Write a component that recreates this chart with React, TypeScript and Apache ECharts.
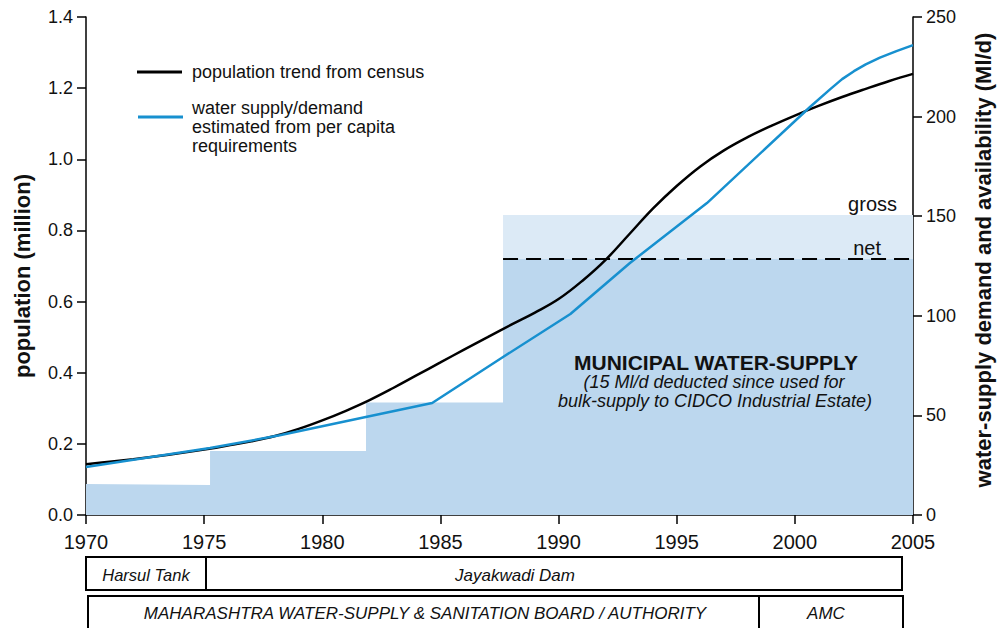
import React, { useEffect, useRef } from "react";
import * as echarts from "echarts";

const popYears = [1970, 1971, 1972, 1973, 1974, 1975, 1976, 1977, 1978, 1979, 1980, 1981, 1982, 1983, 1984, 1985, 1986, 1987, 1988, 1989, 1990, 1991, 1992, 1993, 1994, 1995, 1996, 1997, 1998, 1999, 2000, 2001, 2002, 2003, 2004, 2005];
const population = [0.143, 0.150, 0.157, 0.165, 0.174, 0.184, 0.195, 0.207, 0.222, 0.242, 0.266, 0.293, 0.323, 0.357, 0.393, 0.429, 0.465, 0.500, 0.535, 0.569, 0.607, 0.658, 0.718, 0.790, 0.862, 0.925, 0.980, 1.025, 1.062, 1.094, 1.123, 1.150, 1.175, 1.198, 1.220, 1.240];

const demandYears = [1970, 1975.25, 1978.2, 1982.44, 1984.65, 1987.65, 1990.5, 1993.02, 1996.28, 2000.64, 2001.5, 2002.0, 2002.5, 2003.0, 2003.6, 2004.3, 2005];
const demand = [24.1, 33.6, 40, 50.7, 56.2, 79.3, 100.9, 126.5, 156.6, 204.8, 213.8, 218.8, 222.8, 226.2, 229.6, 232.9, 235.9];

const netYears = [1970, 1975.25, 1975.25, 1981.85, 1981.85, 1987.65, 1987.65, 2005];
const netSupply = [15.5, 15, 32.1, 32.1, 56.5, 56.5, 128.5, 128.5];

const grossYears = [1987.65, 2005];
const grossSupply = [150.6, 150.6];

const xTicks = { min: 1970, max: 2005, interval: 5 };
const popTicks = { min: 0, max: 1.4, interval: 0.2 };
const supplyTicks = { min: 0, max: 250, interval: 50 };

const legendLabels = ["population trend from census", "water supply/demand", "estimated from per capita", "requirements"];
const timelineRow1 = ["Harsul Tank", "Jayakwadi Dam"];
const timelineRow2 = ["MAHARASHTRA WATER-SUPPLY & SANITATION BOARD / AUTHORITY", "AMC"];

const FONT = "'Liberation Sans', Arial, Helvetica, sans-serif";
const pair = (xs: number[], ys: number[]) => xs.map((x, i) => [x, ys[i]]);

export default function App() {
  const ref = useRef<HTMLDivElement>(null);
  useEffect(() => {
    if (!ref.current) return;
    const chart = echarts.init(ref.current, null, { renderer: "svg" });
    const axisLine = { show: true, lineStyle: { color: "#000", width: 1.5 } };
    const axisTick = { show: true, length: 9, lineStyle: { color: "#000", width: 1.5 } };
    const txt = (x: number, y: number, text: string, size: number, extra: any = {}) => ({
      type: "text",
      x,
      y,
      z: 100,
      style: { text, fontSize: size, fontFamily: FONT, fill: "#111", textAlign: "left", textVerticalAlign: "middle", ...extra },
    });
    const net = netSupply[netSupply.length - 1];
    chart.setOption({
      animation: false,
      textStyle: { fontFamily: FONT },
      grid: { left: 86, right: 84, top: 17, bottom: 113, containLabel: false },
      xAxis: {
        type: "value",
        ...xTicks,
        axisLine,
        axisTick,
        splitLine: { show: false },
        axisLabel: { color: "#111", fontSize: 20, margin: 17, fontFamily: FONT, formatter: (v: number) => String(v) },
      },
      yAxis: [
        {
          type: "value",
          ...popTicks,
          position: "left",
          axisLine,
          axisTick,
          splitLine: { show: false },
          axisLabel: { color: "#111", fontSize: 18, margin: 13, fontFamily: FONT, formatter: (v: number) => v.toFixed(1) },
        },
        {
          type: "value",
          ...supplyTicks,
          position: "right",
          axisLine,
          axisTick,
          splitLine: { show: false },
          axisLabel: { color: "#111", fontSize: 18, margin: 13, fontFamily: FONT },
        },
      ],
      series: [
        {
          type: "line",
          yAxisIndex: 1,
          data: pair(grossYears, grossSupply),
          symbol: "none",
          lineStyle: { width: 0 },
          areaStyle: { color: "#dceaf6", opacity: 1 },
          z: 1,
        },
        {
          type: "line",
          yAxisIndex: 1,
          data: pair(netYears, netSupply),
          symbol: "none",
          lineStyle: { width: 0 },
          areaStyle: { color: "#bcd7ee", opacity: 1 },
          z: 2,
        },
        {
          type: "line",
          yAxisIndex: 1,
          data: pair(grossYears, [net, net]),
          symbol: "none",
          lineStyle: { color: "#000", width: 2, type: [15, 8] },
          z: 3,
        },
        {
          type: "line",
          yAxisIndex: 0,
          data: pair(popYears, population),
          symbol: "none",
          smooth: 0.4,
          lineStyle: { color: "#000", width: 2.5 },
          z: 4,
        },
        {
          type: "line",
          yAxisIndex: 1,
          data: pair(demandYears, demand),
          symbol: "none",
          smooth: false,
          lineStyle: { color: "#1790cf", width: 2.5 },
          z: 5,
        },
      ],
      graphic: [
        { type: "line", z: 100, shape: { x1: 137, y1: 72, x2: 182, y2: 72 }, style: { stroke: "#000", lineWidth: 3 } },
        txt(192, 72, legendLabels[0], 18),
        { type: "line", z: 100, shape: { x1: 138, y1: 117, x2: 183, y2: 117 }, style: { stroke: "#1790cf", lineWidth: 3 } },
        txt(192, 108, legendLabels[1], 18),
        txt(192, 127, legendLabels[2], 18),
        txt(192, 146, legendLabels[3], 18),
        txt(897, 204, "gross", 20, { textAlign: "right" }),
        txt(881, 248, "net", 20, { textAlign: "right" }),
        txt(716, 362, "MUNICIPAL WATER-SUPPLY", 21, { textAlign: "center", fontWeight: "bold" }),
        txt(714, 382, "(15 Ml/d deducted since used for", 18, { textAlign: "center", fontStyle: "italic" }),
        txt(715, 401, "bulk-supply to CIDCO Industrial Estate)", 18, { textAlign: "center", fontStyle: "italic" }),
        {
          type: "text",
          x: 22,
          y: 276,
          z: 100,
          rotation: Math.PI / 2,
          style: { text: "population (million)", fontSize: 22, fontWeight: "bold", fontFamily: FONT, fill: "#111", textAlign: "center", textVerticalAlign: "middle" },
        },
        {
          type: "text",
          x: 983,
          y: 260,
          z: 100,
          rotation: Math.PI / 2,
          style: { text: "water-supply demand and availability (Ml/d)", fontSize: 22, fontWeight: "bold", fontFamily: FONT, fill: "#111", textAlign: "center", textVerticalAlign: "middle" },
        },
        { type: "rect", z: 100, shape: { x: 86, y: 557, width: 816, height: 33 }, style: { fill: "none", stroke: "#000", lineWidth: 2 } },
        { type: "line", z: 100, shape: { x1: 206, y1: 557, x2: 206, y2: 590 }, style: { stroke: "#000", lineWidth: 2 } },
        txt(146, 575, timelineRow1[0], 16.5, { textAlign: "center", fontStyle: "italic" }),
        txt(515, 575, timelineRow1[1], 17, { textAlign: "center", fontStyle: "italic" }),
        { type: "rect", z: 100, shape: { x: 88, y: 596, width: 815, height: 40 }, style: { fill: "none", stroke: "#000", lineWidth: 2 } },
        { type: "line", z: 100, shape: { x1: 759, y1: 596, x2: 759, y2: 636 }, style: { stroke: "#000", lineWidth: 2 } },
        txt(425, 613, timelineRow2[0], 17, { textAlign: "center", fontStyle: "italic" }),
        txt(826, 613, timelineRow2[1], 17, { textAlign: "center", fontStyle: "italic" }),
      ],
    });
    return () => chart.dispose();
  }, []);
  return <div ref={ref} style={{ position: "absolute", left: 0, top: 0, width: 997, height: 628, background: "#fff" }} />;
}
